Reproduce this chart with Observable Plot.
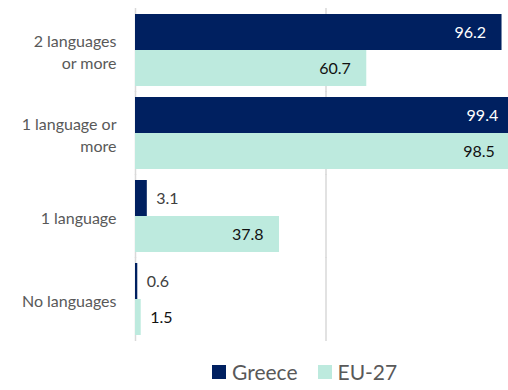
<!DOCTYPE html>
<html>
<head>
<meta charset="utf-8">
<script src="https://cdn.jsdelivr.net/npm/d3@7"></script>
<script src="https://cdn.jsdelivr.net/npm/@observablehq/plot@0.6"></script>
<style>
  html, body { margin: 0; padding: 0; background: #fff; overflow: hidden; }
  #chart { width: 508px; overflow: hidden; }
  #chart svg { max-width: none !important; display: block; }
  .lg-swatches { margin-left: 212px; margin-top: 11px; min-height: 0 !important; }
  .lg-swatch { margin-right: 20px !important; }
  .lg-swatch > svg { margin-right: 6px !important; }
</style>
</head>
<body>
<div id="chart"></div>
<script>
const categories = ["2 languages or more", "1 language or more", "1 language", "No languages"];
const tickLabels = ["2 languages\nor more", "1 language or\nmore", "1 language", "No languages"];
const seriesNames = ["Greece", "EU-27"];
const greece = [96.2, 99.4, 3.1, 0.6];
const eu27 = [60.7, 98.5, 37.8, 1.5];
const gridValues = [0, 50, 100];
const colors = ["#002060", "#bdeade"];

const data = [];
categories.forEach((c, i) => {
  data.push({category: c, series: "Greece", value: greece[i]});
  data.push({category: c, series: "EU-27", value: eu27[i]});
});
const labelOf = new Map(categories.map((c, i) => [c, tickLabels[i]]));
const font = "Lato, 'Open Sans', sans-serif";
const outside = d => d.value < 10;

const plot = Plot.plot({
  width: 516,
  height: 350,
  marginLeft: 135,
  marginRight: 0,
  marginTop: 9,
  marginBottom: 9,
  style: {fontFamily: font, background: "#fff"},
  x: {domain: [0, 100], axis: null},
  y: {domain: seriesNames, padding: 0, axis: null},
  fy: {domain: categories, paddingInner: 0.1325, paddingOuter: 0.066, label: null},
  color: {domain: seriesNames, range: colors},
  marks: [
    Plot.ruleX(gridValues, {stroke: "#d9d9d9", strokeWidth: 1.5, insetTop: -6, insetBottom: -6}),
    Plot.barX(data, {x: "value", y: "series", fy: "category", fill: "series", inset: 0}),
    Plot.text(data.filter(d => !outside(d)), {
      x: "value", y: "series", fy: "category",
      text: d => d.value.toFixed(1),
      textAnchor: "end", dx: -16, fontSize: 16,
      fill: d => d.series === "Greece" ? "#ffffff" : "#111111"
    }),
    Plot.text(data.filter(outside), {
      x: "value", y: "series", fy: "category",
      text: d => d.value.toFixed(1),
      textAnchor: "start", dx: 9, fontSize: 16,
      fill: d => d.series === "Greece" ? "#404040" : "#111111"
    }),
    Plot.axisFy({
      tickFormat: d => labelOf.get(d),
      tickSize: 0, tickPadding: 19, fontSize: 16, lineHeight: 1.375,
      fill: "#595959", label: null, anchor: "left"
    })
  ]
});

const legend = Plot.legend({
  color: {domain: seriesNames, range: colors},
  legend: "swatches",
  swatchSize: 14,
  className: "lg",
  style: {fontFamily: font, fontSize: "21px", color: "#595959", lineHeight: "22px"}
});

const chart = document.getElementById("chart");
chart.appendChild(plot);
chart.appendChild(legend);
</script>
</body>
</html>
